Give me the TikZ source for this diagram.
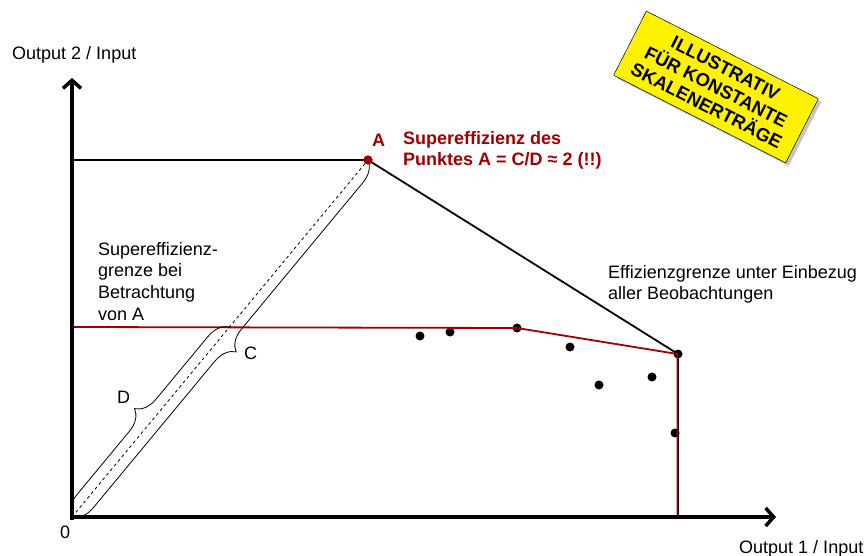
\documentclass[tikz,border=0pt]{standalone}
\usepackage{fontspec}
\setmainfont{Liberation Sans}
\usetikzlibrary{arrows.meta,decorations.pathreplacing,shadows}
\definecolor{dred}{RGB}{160,0,0}
\begin{document}
\begin{tikzpicture}[x=1pt,y=-1pt,
  lbl/.style={font=\fontsize{18}{21.5}\selectfont, inner sep=0pt, anchor=base west, align=left},
  redlbl/.style={font=\fontsize{18}{21}\selectfont\bfseries, text=dred, inner sep=0pt, anchor=base west, align=left},
  axis/.style={line width=3.5pt, -{Straight Barb[length=8pt,width=18pt]}},
  obs/.style={circle, fill=black, inner sep=0pt, minimum size=9pt},
  frontier/.style={line width=1.8pt, draw=black},
  superfront/.style={line width=1.8pt, draw=dred},
  bracestyle/.style={decorate, decoration={brace, amplitude=21pt}, line width=0.8pt},
  stamp/.style={draw=black, line width=0.5pt, fill=yellow, rotate=-27, minimum width=193pt, minimum height=72pt, align=center, inner sep=0pt, font=\fontsize{18.5}{21}\selectfont\bfseries, drop shadow={shadow xshift=3pt,shadow yshift=-3pt,fill=black!45}}
  ]
\useasboundingbox (0,0) rectangle (868,556);
% key coordinates
\coordinate (O) at (72,517);
\coordinate (ytop) at (72,78);
\coordinate (xend) at (776,517);
\coordinate (yA) at (72,160);
\coordinate (yS) at (72,327);
\coordinate (Dpt) at (229.5,327);
\coordinate (Ebot) at (679.5,517);
\coordinate (Rbot) at (677.5,517);
\coordinate (Rcorner) at (677.5,354);
% observations
\node[circle, fill=dred, inner sep=0pt, minimum size=9pt] (A) at (368,160) {};
\node[obs] (p1) at (420,336) {};
\node[obs] (p2) at (450,332) {};
\node[obs] (p3) at (517,328) {};
\node[obs] (p4) at (570,347) {};
\node[obs] (p5) at (599,385) {};
\node[obs] (p6) at (652,377) {};
\node[obs] (p7) at (678,354) {};
\node[obs] (p8) at (675,433) {};
% efficiency frontier with A
\draw[frontier] (yA) -- (A.center) -- (p7.center) -- (p7.center |- Ebot);
% superefficiency frontier
\draw[superfront] (yS) -- (p3.center) -- (Rcorner) -- (Rbot);
% ray through A
\draw[line width=0.8pt, dash pattern=on 3pt off 3pt] (O) -- (A.center);
% braces
\draw[bracestyle] (O) -- (Dpt);
\draw[bracestyle] (A.center) -- (O);
% axes
\draw[axis] (72,519.5) -- (ytop);
\draw[axis] (70,517) -- (xend);
% redraw A on top
\node[circle, fill=dred, inner sep=0pt, minimum size=9pt] at (A) {};
% labels
\node[lbl] (ylab) at (12,59.5) {Output 2 / Input};
\node[lbl] (xlab) at (739,553.5) {Output 1 / Input};
\node[lbl] (zero) at (60,538) {0};
\node[lbl] (Clab) at (244,359) {C};
\node[lbl] (Dlab) at (117,403) {D};
\node[redlbl] (Alab) at (372,147) {A};
\node[redlbl] (supertxt) at (403,166) {Supereffizienz des\\Punktes A = C/D ≈ 2 (!!)};
\node[lbl, font=\fontsize{18}{21}\selectfont] (efftxt) at (608,299.3) {Effizienzgrenze unter Einbezug\\aller Beobachtungen};
\node[lbl, font=\fontsize{18}{21.7}\selectfont] (suptxt) at (98,320.3) {Supereffizienz-\\grenze bei\\Betrachtung\\von A};
\node[stamp] (stampbox) at (716,87) {ILLUSTRATIV\\FÜR KONSTANTE\\SKALENERTRÄGE};
\end{tikzpicture}
\end{document}
